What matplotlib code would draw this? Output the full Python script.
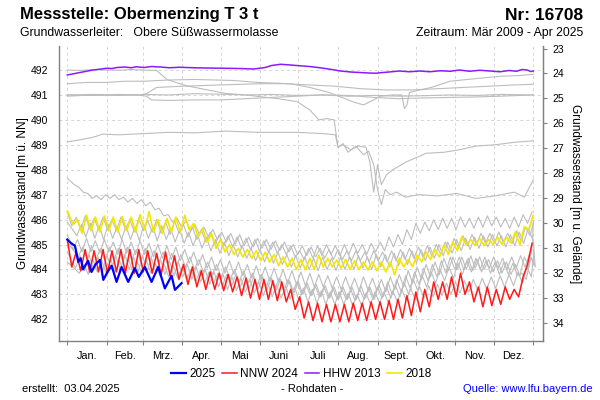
import numpy as np
import matplotlib
matplotlib.use("Agg")
import matplotlib.pyplot as plt
from matplotlib.lines import Line2D

plt.rcParams['font.family'] = ['Liberation Sans', 'DejaVu Sans']

# ---------------- data ----------------
month_labels = ["Jan.", "Feb.", "Mrz.", "Apr.", "Mai", "Juni", "Juli", "Aug.",
                "Sept.", "Okt.", "Nov.", "Dez."]
month_starts = [0, 31, 59, 90, 120, 151, 181, 212, 243, 273, 304, 334, 365]
ground_level = 515.86

# 2025 (blue)
blue_days = [0, 3, 6, 8.6, 10.5, 12.3, 16.3, 19, 22, 25.6, 28.2, 31.5, 34.7, 38.6,
             42.5, 47.7, 52.9, 56, 60.7, 66, 71.2, 76.4, 81.7, 84.3, 89.5]
blue_vals = [485.2, 485.05, 484.95, 484.3, 484.45, 484.0, 484.35, 483.9, 484.2, 484.38,
             483.58, 483.9, 484.15, 483.5, 484.1, 483.5, 484.05, 483.7, 484.1, 483.5,
             484.1, 483.24, 483.75, 483.18, 483.45]

# NNW 2024 (red) weekly highs / lows
red_hi = [485.2, 484.7, 484.8, 484.75, 484.8, 484.75, 484.8, 484.8, 484.8, 484.75,
          484.65, 484.7, 484.55, 484.2, 484.1, 483.95, 483.9, 483.85, 483.8, 483.7,
          483.65, 483.6, 483.6, 483.55, 483.5, 483.2, 482.9, 482.7, 482.65, 482.6,
          482.6, 482.6, 482.65, 482.65, 482.7, 482.7, 482.75, 482.8, 482.95, 483.1,
          483.2, 483.5, 483.5, 483.7, 483.85, 483.5, 483.3, 483.3, 483.2, 483.3,
          483.2, 483.7, 485.05]
red_lo = [484.1, 483.95, 483.9, 483.9, 483.85, 483.9, 483.85, 483.85, 483.9, 483.85,
          483.8, 483.75, 483.6, 483.4, 483.3, 483.2, 483.2, 483.15, 483.1, 482.95,
          482.85, 482.8, 482.8, 482.75, 482.7, 482.4, 482.05, 481.95, 481.9, 481.9,
          481.9, 481.9, 481.95, 481.95, 482.0, 482.0, 482.0, 482.05, 482.15, 482.3,
          482.5, 482.8, 482.8, 482.9, 483.0, 482.7, 482.5, 482.55, 482.6, 482.8,
          482.9, 484.2]

# HHW 2013 (purple)
purple_days = [0, 5, 10, 15, 20, 25, 31, 35, 39, 45, 50, 54, 60, 66, 73, 80, 88, 99,
               110, 123, 135, 146, 155, 160, 167, 175, 182, 190, 198, 206, 214, 222,
               229, 236, 242, 245, 252, 260, 268, 276, 284, 292, 300, 307, 315, 323,
               331, 339, 346, 352, 356, 360, 363, 365]
purple_vals = [491.8, 491.85, 491.9, 491.95, 492.0, 492.03, 492.07, 492.06, 492.1, 492.12,
               492.09, 492.13, 492.1, 492.14, 492.12, 492.09, 492.11, 492.09, 492.08, 492.07,
               492.06, 492.04, 492.1, 492.18, 492.23, 492.2, 492.17, 492.14, 492.09, 492.03,
               491.96, 491.92, 491.9, 491.88, 491.87, 491.89, 491.92, 491.96, 491.93, 491.96,
               491.93, 491.97, 491.95, 492.0, 491.95, 491.99, 491.96, 491.93, 491.98, 491.95,
               492.02, 492.0, 491.94, 491.96]

# 2018 (yellow) weekly highs / lows
yellow_hi = [486.35, 486.0, 486.18, 486.1, 486.15, 486.1, 486.12, 486.1, 486.2, 486.32,
             486.0, 486.05, 486.1, 486.18, 485.85, 485.65, 485.45, 485.2, 485.0, 484.85,
             484.8, 484.75, 484.7, 484.6, 484.5, 484.45, 484.4, 484.45, 484.58, 484.45,
             484.38, 484.4, 484.35, 484.3, 484.31, 484.3, 484.3, 484.45, 484.4, 484.58,
             484.7, 484.8, 484.98, 485.1, 485.31, 485.2, 485.25, 485.2, 485.3, 485.3,
             485.51, 485.71, 486.18]
yellow_lo = [485.8, 485.45, 485.55, 485.5, 485.55, 485.5, 485.55, 485.5, 485.6, 485.5,
             485.45, 485.5, 485.5, 485.6, 485.3, 485.1, 484.85, 484.7, 484.6, 484.5,
             484.45, 484.35, 484.3, 484.15, 484.1, 484.0, 483.98, 484.0, 484.1, 484.1,
             484.05, 484.0, 484.0, 483.98, 483.95, 483.9, 483.78, 484.1, 484.11, 484.3,
             484.4, 484.5, 484.6, 484.75, 484.98, 484.95, 484.95, 485.0, 485.0, 485.05,
             484.98, 485.6]

# other years (grey), weekly highs / lows
grey1_hi = [486.3, 486.1, 486.15, 486.05, 486.1, 486.0, 486.1, 486.0, 486.05, 485.95,
            486.0, 485.9, 485.95, 485.8, 485.7, 485.6, 485.5, 485.4, 485.35, 485.3,
            485.25, 485.2, 485.15, 485.1, 485.0, 484.95, 484.75, 484.85, 484.95, 485.0,
            484.95, 485.0, 485.05, 485.0, 485.05, 485.1, 485.3, 485.4, 485.6, 485.85,
            485.9, 486.0, 486.05, 486.05, 486.1, 486.05, 486.1, 486.15, 486.1, 486.05,
            486.1, 486.2, 486.3]
grey1_lo = [485.75, 485.6, 485.65, 485.6, 485.6, 485.55, 485.6, 485.5, 485.55, 485.5,
            485.45, 485.4, 485.45, 485.3, 485.2, 485.1, 485.0, 484.95, 484.9, 484.85,
            484.8, 484.75, 484.7, 484.65, 484.6, 484.5, 484.4, 484.45, 484.55, 484.6,
            484.55, 484.6, 484.65, 484.6, 484.7, 484.75, 484.9, 485.0, 485.2, 485.45,
            485.55, 485.6, 485.65, 485.6, 485.7, 485.65, 485.7, 485.75, 485.7, 485.65,
            485.7, 485.85]
grey2_hi = [487.66, 487.3, 487.05, 486.95, 487.0, 487.0, 486.9, 486.85, 486.8, 486.7,
            486.45, 486.2, 486.05, 485.95, 485.8, 485.7, 485.6, 485.5, 485.45, 485.4,
            485.3, 485.25, 485.2, 485.15, 485.1, 485.0, 484.95, 484.9, 484.85, 484.8,
            484.8, 484.75, 484.75, 484.7, 484.75, 484.7, 484.75, 484.8, 484.85, 484.9,
            484.95, 485.0, 485.1, 485.25, 485.35, 485.4, 485.45, 485.45, 485.5, 485.45,
            485.55, 485.7, 485.85]
grey2_lo = [487.4, 487.1, 486.85, 486.8, 486.85, 486.8, 486.7, 486.65, 486.55, 486.4,
            486.15, 485.9, 485.7, 485.55, 485.4, 485.3, 485.2, 485.1, 485.0, 484.95,
            484.9, 484.85, 484.8, 484.75, 484.7, 484.6, 484.55, 484.5, 484.45, 484.4,
            484.4, 484.35, 484.35, 484.3, 484.35, 484.3, 484.35, 484.4, 484.45, 484.5,
            484.55, 484.6, 484.7, 484.85, 484.95, 485.0, 485.05, 485.05, 485.1, 485.05,
            485.15, 485.35]
grey3_hi = [485.9, 485.8, 485.85, 485.75, 485.8, 485.7, 485.75, 485.7, 485.8, 485.7,
            485.75, 485.65, 485.6, 485.5, 485.4, 485.3, 485.2, 485.1, 485.0, 484.95,
            484.85, 484.8, 484.75, 484.7, 484.6, 484.55, 484.5, 484.45, 484.5, 484.45,
            484.5, 484.5, 484.55, 484.5, 484.6, 484.6, 484.65, 484.7, 484.75, 484.8,
            484.9, 485.0, 485.1, 485.2, 485.25, 485.3, 485.35, 485.4, 485.35, 485.4,
            485.5, 485.65, 485.95]
grey3_lo = [485.35, 485.3, 485.25, 485.2, 485.25, 485.2, 485.2, 485.15, 485.25, 485.15,
            485.2, 485.1, 485.05, 484.95, 484.85, 484.75, 484.65, 484.55, 484.5, 484.45,
            484.35, 484.3, 484.25, 484.2, 484.1, 484.05, 484.0, 483.95, 484.0, 483.95,
            484.0, 484.0, 484.05, 484.0, 484.1, 484.1, 484.15, 484.2, 484.25, 484.35,
            484.45, 484.55, 484.65, 484.75, 484.8, 484.85, 484.9, 484.95, 484.9, 484.95,
            485.05, 485.2]
grey4_hi = [485.4, 485.2, 485.25, 485.15, 485.2, 485.1, 485.2, 485.1, 485.15, 485.05,
            485.0, 484.95, 484.9, 484.8, 484.7, 484.6, 484.5, 484.4, 484.35, 484.3,
            484.2, 484.15, 484.1, 484.05, 484.0, 483.95, 483.9, 483.85, 483.8, 483.75,
            483.7, 483.7, 483.65, 483.7, 483.65, 483.6, 483.7, 483.8, 483.95, 484.1,
            484.2, 484.3, 484.45, 484.5, 484.5, 484.55, 484.5, 484.4, 484.35, 484.3,
            484.2, 484.5, 485.2]
grey4_lo = [484.8, 484.7, 484.7, 484.65, 484.7, 484.6, 484.65, 484.6, 484.6, 484.5,
            484.45, 484.4, 484.35, 484.25, 484.15, 484.05, 483.95, 483.85, 483.8, 483.75,
            483.65, 483.6, 483.55, 483.5, 483.45, 483.4, 483.35, 483.3, 483.3, 483.25,
            483.2, 483.2, 483.15, 483.2, 483.15, 483.1, 483.2, 483.3, 483.45, 483.6,
            483.7, 483.8, 483.95, 484.0, 484.0, 484.05, 484.0, 483.9, 483.85, 483.8,
            483.75, 484.1]
grey5_hi = [485.1, 484.9, 484.95, 484.85, 484.9, 484.85, 484.9, 484.8, 484.85, 484.75,
            484.7, 484.65, 484.6, 484.5, 484.4, 484.3, 484.2, 484.1, 484.0, 483.95,
            483.85, 483.8, 483.7, 483.65, 483.6, 483.5, 483.4, 483.35, 483.3, 483.25,
            483.2, 483.2, 483.2, 483.25, 483.3, 483.3, 483.35, 483.45, 483.6, 483.75,
            483.9, 484.0, 484.1, 484.25, 484.35, 484.45, 484.5, 484.5, 484.45, 484.5,
            484.55, 484.6, 484.8]
grey5_lo = [484.5, 484.4, 484.4, 484.35, 484.4, 484.3, 484.4, 484.3, 484.35, 484.25,
            484.2, 484.15, 484.1, 484.0, 483.9, 483.8, 483.7, 483.6, 483.5, 483.45,
            483.35, 483.3, 483.2, 483.15, 483.1, 483.0, 482.95, 482.9, 482.85, 482.8,
            482.8, 482.75, 482.8, 482.8, 482.85, 482.85, 482.9, 483.0, 483.15, 483.3,
            483.45, 483.55, 483.65, 483.8, 483.9, 484.0, 484.05, 484.05, 484.0, 484.05,
            484.1, 484.2]
grey6_hi = [484.7, 484.55, 484.6, 484.5, 484.6, 484.55, 484.6, 484.5, 484.55, 484.45,
            484.4, 484.35, 484.3, 484.2, 484.1, 484.0, 483.9, 483.8, 483.7, 483.65,
            483.6, 483.5, 483.45, 483.4, 483.35, 483.3, 483.25, 483.2, 483.15, 483.1,
            483.1, 483.05, 483.0, 483.05, 483.1, 483.1, 483.15, 483.2, 483.25, 483.3,
            483.35, 483.4, 483.45, 483.5, 483.55, 483.6, 483.65, 483.7, 483.75, 483.8,
            483.9, 484.1, 484.5]
grey6_lo = [484.05, 483.95, 484.0, 483.9, 484.0, 483.95, 484.0, 483.9, 483.95, 483.85,
            483.8, 483.75, 483.7, 483.6, 483.5, 483.4, 483.3, 483.2, 483.15, 483.1,
            483.05, 482.95, 482.9, 482.85, 482.8, 482.75, 482.7, 482.65, 482.6, 482.6,
            482.6, 482.55, 482.55, 482.6, 482.65, 482.65, 482.7, 482.75, 482.8, 482.85,
            482.9, 482.95, 483.0, 483.05, 483.1, 483.15, 483.2, 483.25, 483.3, 483.35,
            483.45, 483.7]
grey7_hi = [484.3, 484.2, 484.4, 484.35, 484.4, 484.35, 484.4, 484.3, 484.35, 484.25,
            484.2, 484.15, 484.1, 484.0, 483.95, 483.9, 483.85, 483.8, 483.8, 483.75,
            483.7, 483.7, 483.65, 483.6, 483.55, 483.5, 483.45, 483.4, 483.35, 483.3,
            483.3, 483.3, 483.35, 483.3, 483.4, 483.5, 483.6, 483.75, 483.9, 484.05,
            484.2, 484.35, 484.5, 484.5, 484.45, 484.4, 484.35, 484.3, 484.3, 484.25,
            483.85, 484.5, 485.15]
grey7_lo = [483.85, 483.8, 483.9, 483.85, 483.9, 483.85, 483.9, 483.8, 483.85, 483.75,
            483.7, 483.65, 483.6, 483.5, 483.45, 483.4, 483.35, 483.3, 483.3, 483.25,
            483.2, 483.2, 483.15, 483.1, 483.05, 483.0, 482.95, 482.9, 482.85, 482.8,
            482.8, 482.8, 482.85, 482.8, 482.9, 483.0, 483.1, 483.25, 483.4, 483.55,
            483.7, 483.85, 484.0, 484.0, 483.95, 483.9, 483.85, 483.8, 483.8, 483.75,
            483.6, 484.1]

# upper grey years (sampled records)
greyA_days = [0, 10, 20, 30, 40, 50, 60, 70, 74, 78, 85, 95, 110, 124, 140, 151, 165, 180,
              190, 197, 203, 209, 212, 216, 220, 226, 232, 236, 240, 243, 246, 249, 253,
              258, 265, 275, 290, 305, 320, 335, 350, 358, 365]
greyA_vals = [492.0, 491.98, 492.02, 492.0, 491.99, 492.02, 492.0, 491.98, 491.8, 491.62,
              491.5, 491.35, 491.2, 491.06, 491.0, 490.93, 490.85, 490.73, 490.4, 490.0,
              490.05, 490.0, 488.9, 489.05, 488.7, 488.95, 488.6, 488.75, 488.2, 487.2,
              486.6, 487.2, 487.0, 487.1, 486.9, 487.0, 486.95, 487.05, 486.85, 486.95,
              487.1, 486.9, 487.6]
greyB_days = [0, 10, 20, 28, 40, 60, 80, 100, 124, 150, 180, 200, 210, 212, 216, 222, 228,
              234, 237, 240, 243, 246, 250, 255, 265, 281, 295, 307, 320, 335, 350, 365]
greyB_vals = [489.12, 489.2, 489.3, 489.43, 489.4, 489.45, 489.5, 489.48, 489.55, 489.5,
              489.5, 489.45, 489.4, 488.9, 489.0, 488.8, 488.95, 488.9, 488.3, 487.1,
              488.2, 487.4, 487.8, 488.0, 488.3, 488.66, 488.7, 488.8, 488.95, 489.0,
              489.1, 489.16]
greyC_days = [0, 15, 30, 45, 60, 80, 100, 130, 150, 175, 190, 205, 215, 225, 232, 240,
              245, 255, 262, 264, 266, 268, 272, 285, 300, 323, 340, 355, 365]
greyC_vals = [491.45, 491.5, 491.5, 491.55, 491.55, 491.6, 491.62, 491.58, 491.5, 491.45,
              491.3, 491.1, 490.9, 490.7, 490.6, 490.8, 490.95, 491.0, 491.0, 490.45,
              490.6, 491.1, 491.15, 491.3, 491.55, 491.67, 491.75, 491.78, 491.83]
greyD_days = [0, 20, 40, 60, 80, 100, 120, 140, 160, 180, 200, 220, 240, 260, 280, 300,
              320, 340, 365]
greyD_vals = [490.95, 491.0, 490.98, 491.02, 491.0, 491.05, 491.03, 491.0, 491.02, 490.98,
              491.0, 490.95, 490.98, 490.95, 490.97, 491.0, 490.98, 491.02, 491.0]
greyE_days = [0, 20, 40, 55, 62, 66, 80, 100, 120, 140, 160, 180, 200, 220, 240, 260, 280,
              300, 320, 340, 365]
greyE_vals = [491.0, 490.98, 491.02, 491.0, 490.95, 490.8, 490.78, 490.8, 490.8, 490.85,
              490.9, 490.95, 491.0, 490.98, 490.9, 490.85, 490.88, 490.9, 490.92, 490.95,
              491.0]
greyF_days = [0, 20, 40, 58, 62, 70, 90, 120, 150, 170, 190, 210, 230, 250, 270, 290, 310,
              330, 350, 365]
greyF_vals = [491.0, 491.02, 491.0, 491.0, 491.05, 491.3, 491.35, 491.4, 491.45, 491.45,
              491.4, 491.35, 491.25, 491.2, 491.2, 491.25, 491.3, 491.35, 491.4, 491.43]


def weekly(hi, lo, shift=0.0):
    """Interleave weekly highs and lows; shift = weekday offset of that year."""
    d = np.concatenate([np.arange(len(hi)) * 7.0, np.arange(len(lo)) * 7.0 + 3.5])
    v = np.concatenate([np.asarray(hi, float), np.asarray(lo, float)])
    o = np.argsort(d)
    d, v = d[o], v[o]
    if shift:
        d = d + shift
        d[0] = 0.0
        d[-1] = min(d[-1], 365.0)
    return d, v


# ---------------- figure ----------------
fig = plt.figure(figsize=(6, 4), dpi=100)
ax = fig.add_axes([59 / 600, 1 - 341 / 400, 484 / 600, 295 / 400])

grey_c = '#bdbdbd'
grey_lw = 0.8
for dd, vv in [(greyA_days, greyA_vals), (greyB_days, greyB_vals),
               (greyC_days, greyC_vals), (greyD_days, greyD_vals),
               (greyE_days, greyE_vals), (greyF_days, greyF_vals)]:
    ax.plot(dd, vv, color=grey_c, lw=grey_lw, zorder=2)
for (hi, lo), sh in zip([(grey1_hi, grey1_lo), (grey2_hi, grey2_lo), (grey3_hi, grey3_lo),
                         (grey4_hi, grey4_lo), (grey5_hi, grey5_lo), (grey6_hi, grey6_lo),
                         (grey7_hi, grey7_lo)], [0, 2, 4, 1, 5, 3, 6]):
    d, v = weekly(hi, lo, sh)
    ax.plot(d, v, color=grey_c, lw=grey_lw, zorder=2)

d, v = weekly(yellow_hi, yellow_lo, 1)
ax.plot(d, v, color='#f5e600', lw=1.2, zorder=4)
ax.plot(purple_days, purple_vals, color='#8c1aff', lw=1.1, zorder=4)
d, v = weekly(red_hi, red_lo)
ax.plot(d, v, color='#ff1a1a', lw=1.1, zorder=5)
ax.plot(blue_days, blue_vals, color='#0000ff', lw=1.6, zorder=6)

ax.set_xlim(-6.5, 372.6)
ax.set_ylim(481.13, 492.963)

# grid
for y in range(482, 493):
    ax.axhline(y, color='#d6d6d6', lw=0.7, ls=(0, (3, 3)), zorder=1)
for x in month_starts:
    ax.axvline(x, color='#d6d6d6', lw=0.7, ls=(0, (3, 3)), zorder=1)

ax.set_yticks(range(482, 493))
ax.tick_params(axis='y', length=0, pad=8, labelsize=7.5)
ax.set_xticks(month_starts)
ax.set_xticklabels([])
ax.tick_params(axis='x', which='major', length=3, color='#808080', width=0.8)
mids = [(month_starts[i] + month_starts[i + 1]) / 2 for i in range(12)]
ax.set_xticks(mids, minor=True)
ax.set_xticklabels(month_labels, minor=True, fontsize=7.8)
ax.tick_params(axis='x', which='minor', length=0, pad=7)

for s in ['left', 'bottom', 'right']:
    ax.spines[s].set_color('#808080')
    ax.spines[s].set_linewidth(1.0)
ax.spines['top'].set_visible(False)

ax.set_ylabel('Grundwasserstand [m ü. NN]', fontsize=8.5, labelpad=1)

ax2 = ax.twinx()
ax2.set_ylim(ground_level - 481.13, ground_level - 492.963)
ax2.set_yticks(range(23, 35))
ax2.tick_params(axis='y', length=3, color='#808080', pad=4, labelsize=7.5)
for s in ['left', 'bottom', 'top']:
    ax2.spines[s].set_visible(False)
ax2.spines['right'].set_color('#808080')
ax2.set_ylabel('Grundwasserstand [m u. Gelände]', fontsize=8.5, rotation=-90,
               labelpad=12)

# legend
handles = [Line2D([], [], color='#0000ff', lw=1.6),
           Line2D([], [], color='#ff1a1a', lw=1.1),
           Line2D([], [], color='#8c1aff', lw=1.1),
           Line2D([], [], color='#f5e600', lw=1.2)]
fig.legend(handles, ['2025', 'NNW 2024', 'HHW 2013', '2018'], loc='center',
           bbox_to_anchor=(0.502, 1 - 374 / 400), ncol=4, frameon=False,
           fontsize=8.5, handlelength=1.25, handletextpad=0.3, columnspacing=0.55)

# titles
fig.text(20 / 600, 1 - 15 / 400, 'Messstelle: Obermenzing T 3 t', fontsize=12,
         fontweight='bold', ha='left', va='center')
fig.text(583 / 600, 1 - 15 / 400, 'Nr: 16708', fontsize=12.5, fontweight='bold',
         ha='right', va='center')
fig.text(20 / 600, 1 - 33 / 400, 'Grundwasserleiter:   Obere Süßwassermolasse',
         fontsize=8.8, ha='left', va='center')
fig.text(583 / 600, 1 - 33 / 400, 'Zeitraum: Mär 2009 - Apr 2025', fontsize=8.8,
         ha='right', va='center')

# footer
fig.text(22 / 600, 1 - 389 / 400, 'erstellt:  03.04.2025', fontsize=8,
         ha='left', va='center')
fig.text(312 / 600, 1 - 389 / 400, '- Rohdaten -', fontsize=8, ha='center', va='center')
fig.text(593 / 600, 1 - 389 / 400, 'Quelle: www.lfu.bayern.de', fontsize=8,
         ha='right', va='center', color='#0000ff')

fig.savefig('out.png', dpi=100)
